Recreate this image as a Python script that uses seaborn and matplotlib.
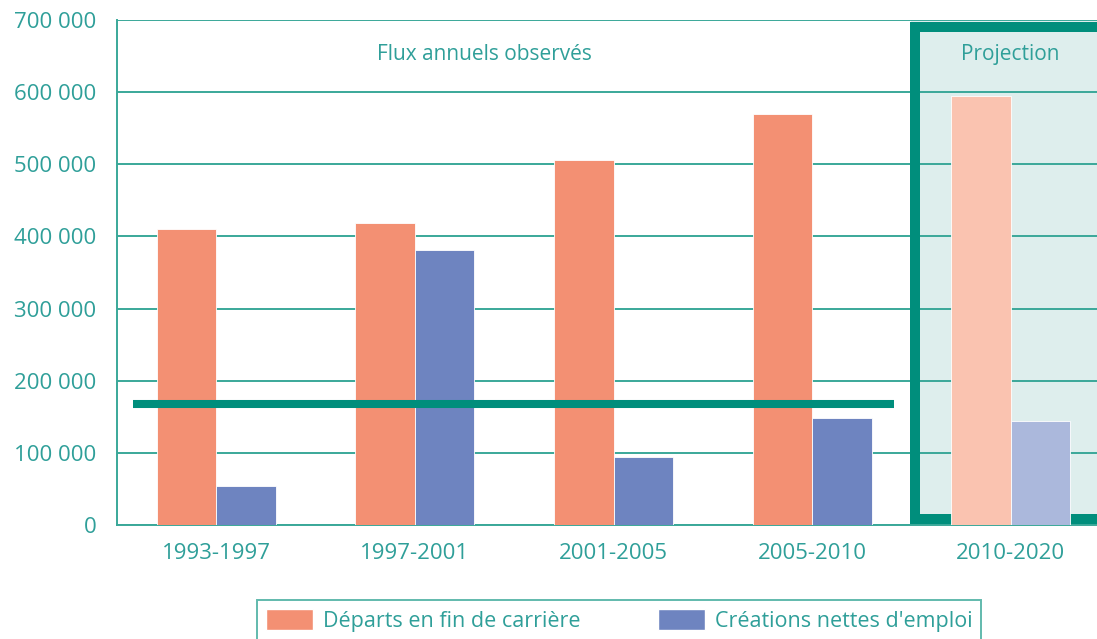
import pandas as pd
import numpy as np
import matplotlib.pyplot as plt
import matplotlib.patches as mpatches
from matplotlib.ticker import FuncFormatter, FixedLocator
import seaborn as sns

# ─── DATA ────────────────────────────────────────────────────────────────────
periodes  = ['1993-1997', '1997-2001', '2001-2005', '2005-2010', '2010-2020']
departs   = [410000, 418000, 506000, 570000, 595000]
creations = [54000, 381000, 94000, 148000, 144000]
niveau_moyen = 168000   # ligne horizontale verte
serie_1 = 'Départs en fin de carrière'
serie_2 = "Créations nettes d'emploi"

df = pd.DataFrame({
    'periode': periodes * 2,
    'valeur': departs + creations,
    'serie': [serie_1] * len(periodes) + [serie_2] * len(periodes),
})

# ─── STYLE ───────────────────────────────────────────────────────────────────
TEAL      = '#008e7c'
GRID      = '#3aa899'
TXT       = '#2f9f99'
ORANGE    = '#f39073'
BLUE      = '#6e84c0'
ORANGE_LT = '#fac3b0'
BLUE_LT   = '#abb8dc'
BOX_FILL  = '#deeeed'

sns.set_style('white')
plt.rcParams['font.family'] = ['Open Sans', 'DejaVu Sans']

fig = plt.figure(figsize=(10.97, 6.39), dpi=100)
ax = fig.add_axes([117/1097, 1 - 525/639, (1110 - 117)/1097, (525 - 20)/639])

sns.barplot(data=df, x='periode', y='valeur', hue='serie', order=periodes,
            hue_order=[serie_1, serie_2], palette=[ORANGE, BLUE],
            width=0.6, ax=ax, legend=False, saturation=1)

# projection bars lighter
for cont, light in zip(ax.containers, [ORANGE_LT, BLUE_LT]):
    for bar in cont:
        bar.set_zorder(3)
        bar.set_edgecolor('white')
        bar.set_linewidth(0.6)
    cont[-1].set_facecolor(light)

ax.set_xlim(-0.5, 4.5)
ax.set_ylim(0, 700000)
ax.set_xlabel('')
ax.set_ylabel('')

# projection box
n_obs = len(periodes) - 1
x0 = n_obs - 0.5 + 0.018
ax.add_patch(mpatches.Rectangle((n_obs - 0.5, 0), 2, 700000,
                                facecolor=BOX_FILL, edgecolor='none', zorder=0.2))
ax.plot([x0 + 2, x0, x0, x0 + 2], [690300, 690300, 8300, 8300], color=TEAL,
        linewidth=7.2, solid_joinstyle='miter', solid_capstyle='butt', zorder=1.5)

# horizontal green line across observed periods
ax.hlines(niveau_moyen, -0.5 + 0.08, n_obs - 1 + 0.41, color=TEAL, linewidth=5.8, zorder=4)

# grid + spines
ax.set_axisbelow(True)
ax.yaxis.grid(True, color=GRID, linewidth=1.4)
ax.xaxis.grid(False)
for s in ['top', 'right']:
    ax.spines[s].set_visible(False)
for s in ['left', 'bottom']:
    ax.spines[s].set_color(GRID)
    ax.spines[s].set_linewidth(1.4)

ax.set_yticks(np.arange(0, 700001, 100000))
ax.yaxis.set_major_formatter(FuncFormatter(lambda v, p: f'{int(v):,}'.replace(',', ' ')))
ax.tick_params(axis='y', length=9, width=1.4, color=GRID, pad=6, labelsize=16, labelcolor=TXT)

ax.xaxis.set_major_locator(FixedLocator(np.arange(-0.5, len(periodes), 1.0)))
ax.xaxis.set_minor_locator(FixedLocator(np.arange(len(periodes))))
ax.set_xticklabels([], minor=False)
ax.set_xticklabels(periodes, minor=True)
ax.tick_params(axis='x', which='major', length=8, width=1.4, color=GRID)
ax.tick_params(axis='x', which='minor', length=0, pad=13, labelsize=16, labelcolor=TXT)

ax.text(1.35, 652000, 'Flux annuels observés', ha='center', va='center',
        fontsize=15, color=TXT, zorder=5)
ax.text(4.0, 652000, 'Projection', ha='center', va='center',
        fontsize=15, color=TXT, zorder=5)

# legend
handles = [mpatches.Patch(facecolor=ORANGE, edgecolor='white', label=serie_1),
           mpatches.Patch(facecolor=BLUE, edgecolor='white', label=serie_2)]
leg = fig.legend(handles=handles, loc='upper left', bbox_to_anchor=(257/1097, 1 - 600/639),
                 ncol=2, fontsize=15.5, frameon=True, fancybox=False,
                 handlelength=2.2, handleheight=1.15, handletextpad=0.45,
                 columnspacing=3.6, borderpad=0.4, borderaxespad=0)
leg.get_frame().set_edgecolor(GRID)
leg.get_frame().set_linewidth(1.4)
for t in leg.get_texts():
    t.set_color(TXT)

plt.savefig('out.png', dpi=100)
